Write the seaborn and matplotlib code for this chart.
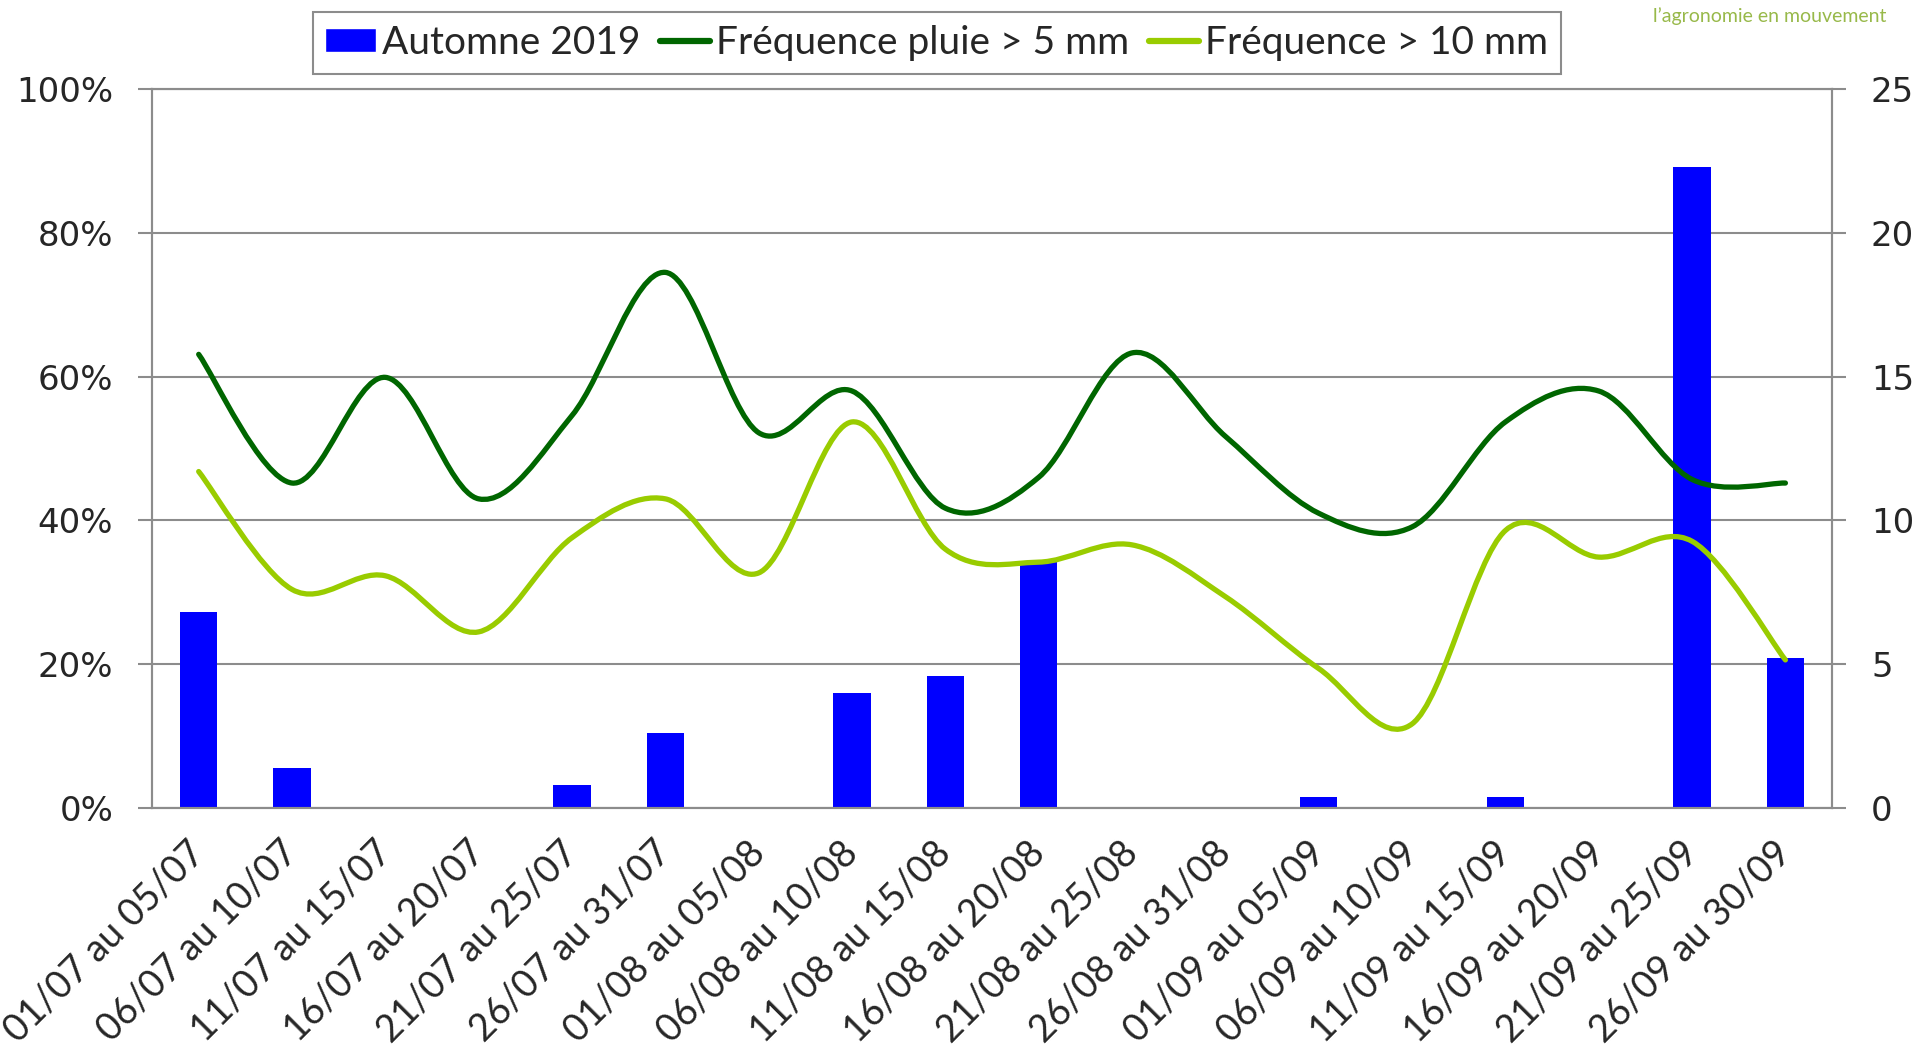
import numpy as np
import matplotlib
matplotlib.use("Agg")
import matplotlib.pyplot as plt
from matplotlib.path import Path
from matplotlib.patches import PathPatch, Patch
from matplotlib.lines import Line2D
from matplotlib.ticker import PercentFormatter
import seaborn as sns

# Données
periodes = ["01/07 au 05/07", "06/07 au 10/07", "11/07 au 15/07", "16/07 au 20/07",
            "21/07 au 25/07", "26/07 au 31/07", "01/08 au 05/08", "06/08 au 10/08",
            "11/08 au 15/08", "16/08 au 20/08", "21/08 au 25/08", "26/08 au 31/08",
            "01/09 au 05/09", "06/09 au 10/09", "11/09 au 15/09", "16/09 au 20/09",
            "21/09 au 25/09", "26/09 au 30/09"]
automne_2019 = [6.8, 1.4, 0, 0, 0.8, 2.6, 0, 4.0, 4.6, 8.6, 0, 0, 0.4, 0, 0.4, 0, 22.3, 5.2]
freq_5mm = [63.1, 45.2, 59.9, 43.0, 54.6, 74.5, 52.2, 58.0, 41.7, 46.0,
            63.3, 51.7, 41.0, 39.1, 53.7, 58.0, 45.7, 45.2]
freq_10mm = [46.8, 30.4, 32.3, 24.5, 37.6, 43.0, 32.7, 53.7, 36.0, 34.2,
             36.6, 29.4, 19.4, 11.7, 38.6, 34.9, 37.1, 20.6]

GRIS = "#8c8c8c"
BLEU = "#0000FF"
VERT_FONCE = "#006600"
VERT_CLAIR = "#99CC00"


def courbe_lissee(y):
    # lissage type Excel : segments de Bezier (Catmull-Rom) entre les points
    x = np.arange(len(y), dtype=float)
    pts = np.column_stack([x, np.asarray(y, dtype=float)])
    ext = np.vstack([pts[0], pts, pts[-1]])
    verts = [pts[0]]
    codes = [Path.MOVETO]
    for i in range(len(pts) - 1):
        p0, p1, p2, p3 = ext[i], ext[i + 1], ext[i + 2], ext[i + 3]
        verts += [p1 + (p2 - p0) / 6, p2 - (p3 - p1) / 6, p2]
        codes += [Path.CURVE4] * 3
    return Path(verts, codes)


sns.set_style("white")
plt.rcParams["font.family"] = ["DejaVu Sans"]

fig = plt.figure(figsize=(19.17, 10.55), dpi=100)
fig.patch.set_facecolor("white")
ax = fig.add_axes([0.0793, 0.2341, 0.8764, 0.6815])
ax2 = ax.twinx()
ax.set_zorder(2)
ax2.set_zorder(1)
ax.patch.set_visible(False)
ax2.patch.set_visible(False)

# 1. Barres (axe de droite)
sns.barplot(x=periodes, y=automne_2019, color=BLEU, saturation=1, width=0.4,
            linewidth=0, ax=ax2)
ax2.set_ylim(0, 25)
ax2.set_yticks([0, 5, 10, 15, 20, 25])
ax2.yaxis.grid(True, color=GRIS, lw=1.5)
ax2.set_axisbelow(True)
ax2.set_xlabel("")
ax2.set_ylabel("")

# 2. Courbes lissées (axe de gauche)
ax.add_patch(PathPatch(courbe_lissee(freq_5mm), fill=False, edgecolor=VERT_FONCE,
                       lw=3.8, capstyle="round", joinstyle="round"))
ax.add_patch(PathPatch(courbe_lissee(freq_10mm), fill=False, edgecolor=VERT_CLAIR,
                       lw=3.8, capstyle="round", joinstyle="round"))
ax.set_ylim(0, 100)
ax.set_yticks(np.arange(0, 101, 20))
ax.yaxis.set_major_formatter(PercentFormatter(decimals=0))

# 3. Axe des x
ax.set_xlim(-0.5, len(periodes) - 0.5)
ax.set_xticks(range(len(periodes)))
ax.set_xticklabels(periodes, rotation=45, ha="right", va="center",
                   rotation_mode="anchor", fontsize=27, family="Lato")
ax.set_xticks(np.arange(-0.5, len(periodes), 1), minor=True)
ax.tick_params(axis="x", which="major", length=0, pad=28)
ax.tick_params(axis="x", which="minor", length=10, width=1.5, color=GRIS, direction="out")
ax.tick_params(axis="y", left=True, length=10, width=1.5, color=GRIS, direction="out",
               pad=18, labelsize=24.5)
ax2.tick_params(axis="y", right=True, length=10, width=1.5, color=GRIS, direction="out",
                pad=18, labelsize=24.5)

for a in (ax, ax2):
    for s in a.spines.values():
        s.set_color(GRIS)
        s.set_linewidth(1.5)

# 4. Légende
handles = [Patch(facecolor=BLEU),
           Line2D([], [], color=VERT_FONCE, lw=4.5),
           Line2D([], [], color=VERT_CLAIR, lw=4.5)]
labels = ["Automne 2019", "Fréquence pluie > 5 mm", "Fréquence > 10 mm"]
leg = fig.legend(handles, labels, loc="upper center", bbox_to_anchor=(0.4886, 0.9886),
                 borderaxespad=0, ncol=3, frameon=True, fancybox=False, edgecolor=GRIS,
                 framealpha=1, prop={"family": "Lato", "size": 28}, handlelength=1.3,
                 handletextpad=0.15, columnspacing=0.5, borderpad=0.33, handleheight=0.55)
leg.get_frame().set_linewidth(1.5)

fig.text(0.984, 0.993, "l’agronomie en mouvement", ha="right", va="top",
         color="#98b94a", fontsize=14, family="Lato")

fig.savefig("out.png", dpi=100)
